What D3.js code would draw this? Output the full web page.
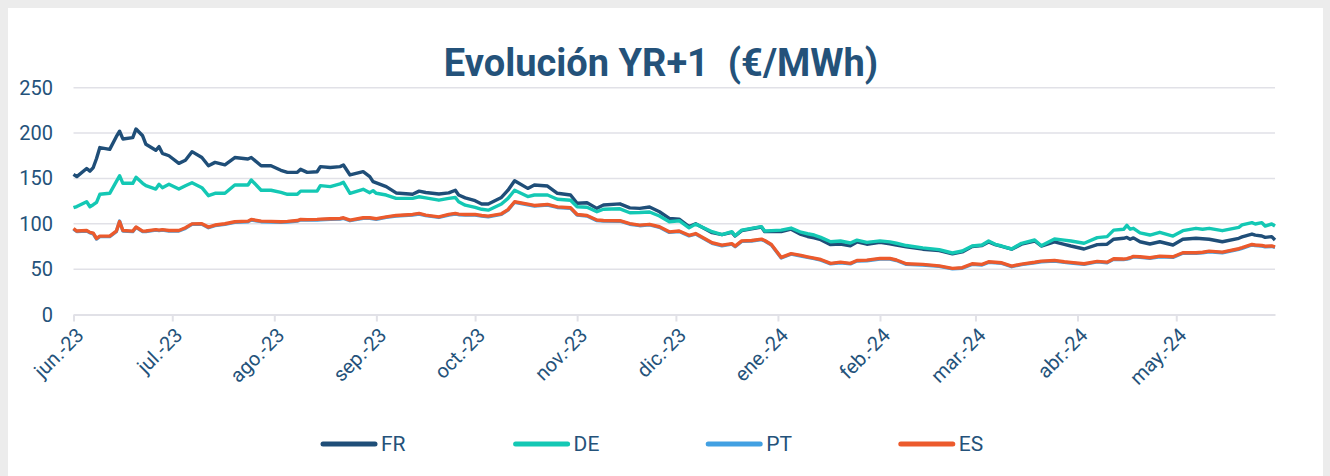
<!DOCTYPE html>
<html>
<head>
<meta charset="utf-8">
<script src="https://cdn.jsdelivr.net/npm/d3@7"></script>
<style>
  html, body { margin: 0; padding: 0; background: #ececec; }
  svg { display: block; font-family: Roboto, "Noto Sans", sans-serif; }
</style>
</head>
<body>
<div id="chart"></div>
<script>
const WIDTH = 1330;
const HEIGHT = 476;
const PLOT = { left: 73.5, right: 1275, top: 87.7, bottom: 314.5 };

const TITLE = 'Evolución YR+1  (€/MWh)';
const SERIES_NAMES = ['FR', 'DE', 'PT', 'ES'];
const SERIES_COLORS = ['#1f4e78', '#14c8b4', '#42a0e2', '#ec5a2c'];
const MONTH_LABELS = ['jun.-23', 'jul.-23', 'ago.-23', 'sep.-23', 'oct.-23', 'nov.-23',
    'dic.-23', 'ene.-24', 'feb.-24', 'mar.-24', 'abr.-24', 'may.-24'];
const Y_TICKS = [0, 50, 100, 150, 200, 250];

// days since 1 Jun 2023
const dayOffsets = [0, 1, 4, 5, 6, 7, 8, 11, 13, 14,
    15, 18, 19, 21, 22, 25, 26, 27, 29, 32,
    34, 36, 39, 41, 43, 46, 49, 53, 54, 57,
    60, 63, 65, 68, 69, 71, 74, 75, 78, 81,
    82, 84, 88, 90, 91, 92, 95, 98, 103, 105,
    107, 111, 114, 116, 117, 119, 122, 124, 126, 130,
    132, 134, 138, 140, 144, 147, 151, 153, 156, 159,
    161, 166, 169, 172, 175, 178, 181, 184, 187, 189,
    194, 197, 200, 201, 203, 206, 209, 210, 212, 215,
    218, 221, 223, 225, 227, 230, 233, 236, 238, 241,
    245, 248, 250, 253, 258, 263, 267, 270, 273, 276,
    278, 280, 282, 285, 288, 292, 294, 298, 301, 303,
    307, 311, 314, 316, 319, 320, 321, 322, 324, 327,
    330, 334, 337, 341, 343, 345, 349, 354, 355, 358,
    359, 361, 362, 364, 365];

const frValues = [154.5, 152, 161, 158, 162, 172, 184, 182, 196, 202,
    193.5, 195, 204.5, 197, 187.6, 181, 185, 177.7, 175, 166.6,
    170, 179.5, 173, 164, 167.7, 165, 173, 171.4, 173, 164,
    164, 159, 156.7, 156.7, 160, 156.7, 157.4, 163, 162, 163,
    164.8, 153.8, 157.4, 152, 146.4, 145, 141, 134, 132.5, 136,
    134.5, 132.8, 134, 137, 131.7, 128.5, 125.5, 121.8, 121.8, 129,
    137, 147.5, 139, 142.7, 141.6, 133.6, 131.7, 122.6, 123.2, 117,
    120.7, 122, 117.5, 117, 118.5, 113.3, 106, 105, 97, 100,
    90.2, 88, 90.5, 86.5, 92.4, 94.5, 96.5, 91.3, 91.3, 91.3,
    94.1, 88.2, 86, 84.5, 82.5, 77, 77.7, 75.6, 80, 77.5,
    79.5, 78, 76.5, 74.5, 72, 70.5, 66.8, 69, 75, 76,
    80, 77, 75, 72, 77.5, 81, 75.5, 80, 77.4, 75.5,
    72.2, 77, 77.5, 83, 84, 85, 83, 84.5, 80.2, 77.7,
    80.2, 76.6, 82.9, 84, 83.5, 82.9, 80.2, 84, 85.5, 88.7,
    87.5, 86.5, 85, 85.8, 82.1];

const deValues = [117.7, 119, 124.3, 118.8, 121, 123.7, 132.5, 133.6, 146.4, 153,
    144.6, 144.6, 151.2, 144.6, 142, 138.3, 143.5, 139.8, 143.5, 138.3,
    142, 145.3, 139.8, 131, 133.6, 133.6, 142.7, 142.7, 148.3, 137,
    137, 134.7, 132.5, 132.5, 136, 136, 136, 142, 141, 144,
    145.7, 133.6, 138, 134.3, 136.5, 133.6, 131.7, 128, 128, 129.8,
    128.5, 126, 128, 129, 124.3, 120.5, 118, 116, 115, 121.8,
    128, 137, 130, 131.7, 131.7, 127, 126, 118.8, 118.2, 113.3,
    116, 116.5, 112.2, 112.4, 113, 108.6, 102.3, 103.4, 95.5, 99.6,
    91.3, 88, 91.3, 86.8, 93, 95, 96.8, 92, 92.5, 93,
    95.3, 90.7, 89, 87.6, 85, 80.2, 81, 78.8, 82, 79.5,
    81.2, 80, 78.5, 76, 73.5, 71.5, 67.8, 70, 75.5, 76.6,
    81, 77.4, 75.5, 72.2, 78.5, 82.1, 75.8, 83.2, 82, 81,
    78.5, 84.7, 85.8, 93, 93.9, 98.3, 94, 95, 90, 87.6,
    90.6, 86.5, 92.4, 95, 94, 95, 92.4, 96.1, 98.7, 101.2,
    99.8, 101.2, 97.5, 99.8, 97.5];

const ptValues = [94.2, 91.5, 92, 90, 89, 83.2, 85.8, 85.8, 91.3, 103,
    92, 91.3, 96, 91.3, 91.5, 93, 92.5, 93, 92, 92,
    95, 99.4, 99.4, 95.7, 98, 99.4, 101.6, 102.3, 104.2, 102.3,
    102, 101.6, 102, 103, 104.2, 104, 104.2, 104.5, 105, 105.3,
    106, 103.4, 106, 106, 105.5, 105, 107, 108.6, 109.7, 110.8,
    109, 107, 109.7, 110.8, 110, 109.7, 109.7, 108.5, 107.8, 110.4,
    115, 123.7, 121, 119.6, 120.7, 118, 117, 109.7, 108.6, 103.5,
    103, 102.8, 99.5, 97.9, 98.8, 96.1, 90.5, 91.5, 86.7, 88.6,
    78.5, 75.8, 77.5, 74.7, 80.6, 81, 82.5, 81, 76.6, 62.3,
    66.5, 64.5, 63, 61.5, 60, 55.8, 57.1, 55.8, 59, 59.3,
    61.2, 61.2, 59.5, 55.3, 54.6, 53, 50.3, 51, 55.3, 54.6,
    57.5, 57, 56.4, 52.7, 55, 57, 58.2, 59, 57.5, 56.8,
    55.3, 58, 57.1, 60.8, 60.5, 61, 62, 63.5, 63, 62,
    63.7, 63, 67.5, 67.5, 68, 69.2, 68.1, 71.9, 73, 76.6,
    76, 75.5, 74.7, 75, 74];

const esValues = [94.8, 92, 92.6, 90.5, 89.6, 83.8, 86.4, 86.4, 91.8, 102.4,
    92.6, 91.9, 96.5, 91.9, 92, 93.6, 93, 93.6, 92.6, 92.6,
    95.6, 99.9, 100, 96.3, 98.6, 100, 102.2, 102.9, 104.8, 102.9,
    102.6, 102.2, 102.6, 103.6, 104.8, 104.6, 104.8, 105.1, 105.6, 105.9,
    106.6, 104, 106.6, 106.6, 106.1, 105.6, 107.6, 109.2, 110.3, 111.4,
    109.6, 107.6, 110.3, 111.4, 110.6, 110.3, 110.3, 109.1, 108.4, 111,
    115.6, 124.3, 121.6, 120.2, 121.3, 118.6, 117.6, 110.3, 109.2, 104.1,
    103.6, 103.4, 100.1, 98.5, 99.4, 96.7, 91.1, 92.1, 87.3, 89.2,
    79.1, 76.4, 78.1, 75.3, 81.2, 81.6, 83.1, 81.6, 77.2, 62.9,
    67.1, 65.1, 63.6, 62.1, 60.6, 56.4, 57.7, 56.4, 59.6, 59.9,
    61.8, 61.8, 60.1, 55.9, 55.2, 53.6, 50.9, 51.6, 55.9, 55.2,
    58.1, 57.6, 57, 53.3, 55.6, 57.6, 58.8, 59.6, 58.1, 57.4,
    55.9, 58.6, 57.7, 61.4, 61.1, 61.6, 62.6, 64.1, 63.6, 62.6,
    64.3, 63.6, 68.1, 68.1, 68.6, 69.8, 68.7, 72.5, 73.6, 77.2,
    76.6, 76.1, 75.3, 75.6, 74.6];

const START = new Date(2023, 5, 1);
const END = new Date(2024, 4, 31);
const dates = dayOffsets.map(d => d3.timeDay.offset(START, d));
const seriesValues = [frValues, deValues, ptValues, esValues];

const TEXT_COLOR = '#24527a';
const GRID_COLOR = '#e1e1e7';

const svg = d3.select('#chart').append('svg')
    .attr('width', WIDTH)
    .attr('height', HEIGHT);

// page + card
svg.append('rect').attr('width', WIDTH).attr('height', HEIGHT).attr('fill', '#ececec');
svg.append('rect')
    .attr('x', 8).attr('y', 8)
    .attr('width', 1315).attr('height', HEIGHT)
    .attr('fill', '#ffffff');

const x = d3.scaleTime().domain([START, END]).range([PLOT.left, PLOT.right]);
const y = d3.scaleLinear().domain([0, 250]).range([PLOT.bottom, PLOT.top]);

// Title
svg.append('text')
    .attr('x', 661)
    .attr('y', 76)
    .attr('text-anchor', 'middle')
    .style('white-space', 'pre')
    .attr('font-size', 38)
    .attr('font-weight', 700)
    .attr('fill', TEXT_COLOR)
    .text(TITLE);

// Gridlines
svg.append('g')
    .selectAll('line')
    .data(Y_TICKS.filter(t => t > 0))
    .join('line')
    .attr('x1', PLOT.left).attr('x2', PLOT.right)
    .attr('y1', d => y(d)).attr('y2', d => y(d))
    .attr('stroke', GRID_COLOR)
    .attr('stroke-width', 1.5);

// Y labels
svg.append('g')
    .selectAll('text')
    .data(Y_TICKS)
    .join('text')
    .attr('x', 53)
    .attr('y', d => y(d))
    .attr('dy', '0.35em')
    .attr('text-anchor', 'end')
    .attr('font-size', 20)
    .attr('fill', TEXT_COLOR)
    .text(d => d);

// X axis
const monthTicks = d3.timeMonth.range(START, END);
const xAxis = d3.axisBottom(x)
    .tickValues(monthTicks)
    .tickSize(7)
    .tickSizeOuter(0)
    .tickFormat((d, i) => MONTH_LABELS[i]);

const xg = svg.append('g')
    .attr('transform', `translate(0, ${PLOT.bottom})`)
    .call(xAxis);
xg.select('.domain').attr('stroke', GRID_COLOR).attr('stroke-width', 2);
xg.selectAll('.tick line').attr('stroke', GRID_COLOR).attr('stroke-width', 2);
xg.selectAll('.tick text')
    .attr('font-size', 20)
    .attr('font-family', 'Roboto, sans-serif')
    .attr('fill', TEXT_COLOR)
    .attr('text-anchor', 'end')
    .attr('x', 0)
    .attr('y', 0)
    .attr('dy', '0.35em')
    .attr('transform', 'translate(6, 17) rotate(-45)');

// Lines
const line = d3.line()
    .x((d, i) => x(dates[i]))
    .y(d => y(d));

svg.append('g')
    .selectAll('path')
    .data(seriesValues)
    .join('path')
    .attr('d', d => line(d))
    .attr('fill', 'none')
    .attr('stroke', (d, i) => SERIES_COLORS[i])
    .attr('stroke-width', 3.4)
    .attr('stroke-linejoin', 'round');

// Legend
const legend = svg.append('g')
    .attr('transform', 'translate(323, 444)');
const item = legend.selectAll('g')
    .data(SERIES_NAMES)
    .join('g')
    .attr('transform', (d, i) => `translate(${i * 192.6}, 0)`);
item.append('line')
    .attr('x1', 0).attr('x2', 52)
    .attr('stroke', (d, i) => SERIES_COLORS[i])
    .attr('stroke-width', 5)
    .attr('stroke-linecap', 'round');
item.append('text')
    .attr('x', 58)
    .attr('dy', '0.35em')
    .attr('font-size', 21)
    .attr('fill', TEXT_COLOR)
    .text(d => d);
</script>
</body>
</html>
